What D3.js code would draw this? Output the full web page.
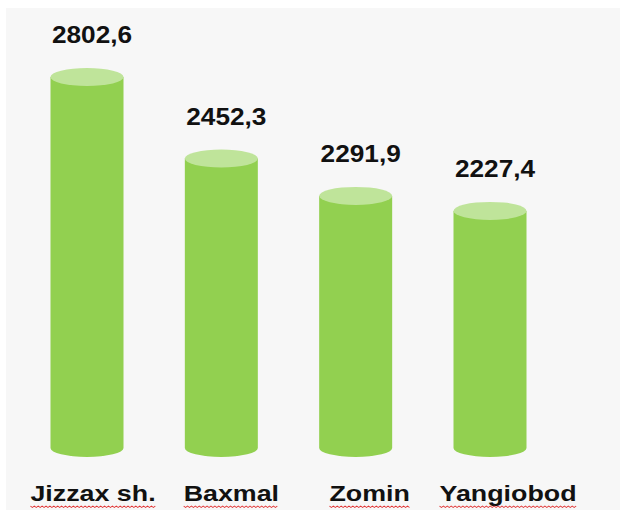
<!DOCTYPE html>
<html>
<head>
<meta charset="utf-8">
<script src="https://cdn.jsdelivr.net/npm/d3@7"></script>
<style>
  body { margin: 0; background: #fff; }
  text { font-family: "Liberation Sans", Arial, sans-serif; font-weight: bold; fill: #111; }
</style>
</head>
<body>
<svg id="chart" width="620" height="510"></svg>
<script>
  const districts = ['Jizzax sh.', 'Baxmal', 'Zomin', 'Yangiobod'];
  const values = [2802.6, 2452.3, 2291.9, 2227.4];
  const valueLabels = ['2802,6', '2452,3', '2291,9', '2227,4'];

  const width = 620, height = 510;
  const svg = d3.select('#chart');

  // light panel behind the chart
  svg.append('rect')
    .attr('x', 6).attr('y', 8)
    .attr('width', width - 6).attr('height', height - 8)
    .attr('fill', '#f7f7f7');

  const xScale = d3.scalePoint()
    .domain(districts)
    .range([87, 490]);

  const yScale = d3.scaleLinear()
    .domain([1200, 2850])
    .range([450, 66]);

  const barW = 73, ry = 9;
  const rx = barW / 2;
  const base = yScale(1200) - 2;

  const data = districts.map((d, i) => ({ name: d, value: values[i], label: valueLabels[i] }));

  const bars = svg.selectAll('.bar').data(data).enter()
    .append('g').attr('class', 'bar');

  // cylinder body
  bars.append('path')
    .attr('fill', '#92d050')
    .attr('d', d => {
      const cx = xScale(d.name), top = yScale(d.value);
      return `M${cx - rx},${top} L${cx - rx},${base}
        A${rx},${ry} 0 0 0 ${cx + rx},${base}
        L${cx + rx},${top} Z`;
    });

  // cylinder top
  bars.append('ellipse')
    .attr('cx', d => xScale(d.name))
    .attr('cy', d => yScale(d.value))
    .attr('rx', rx).attr('ry', ry)
    .attr('fill', '#bfe49a');

  // value labels
  bars.append('text')
    .attr('text-anchor', 'middle')
    .attr('font-size', 23)
    .attr('transform', d => `translate(${xScale(d.name) + 5},${yScale(d.value) - ry - 25}) scale(1.14,1)`)
    .text(d => d.label);

  // category labels
  const cats = svg.selectAll('.cat').data(data).enter()
    .append('g').attr('class', 'cat')
    .attr('transform', (d, i) => `translate(${xScale(d.name) + 6 + i * 4},501) scale(1.22,1)`);

  cats.append('text')
    .attr('text-anchor', 'middle')
    .attr('font-size', 22)
    .text(d => d.name);

  // red spell-check squiggle under each label
  cats.each(function () {
    const g = d3.select(this);
    const bb = g.select('text').node().getBBox();
    const pts = [];
    for (let x = bb.x, k = 0; x <= bb.x + bb.width; x += 1.6, k++) {
      pts.push([x, 5 + (k % 2 ? 1.5 : 0)]);
    }
    g.append('path')
      .attr('d', d3.line()(pts))
      .attr('fill', 'none')
      .attr('stroke', '#e03030')
      .attr('stroke-width', 0.9);
  });
</script>
</body>
</html>
